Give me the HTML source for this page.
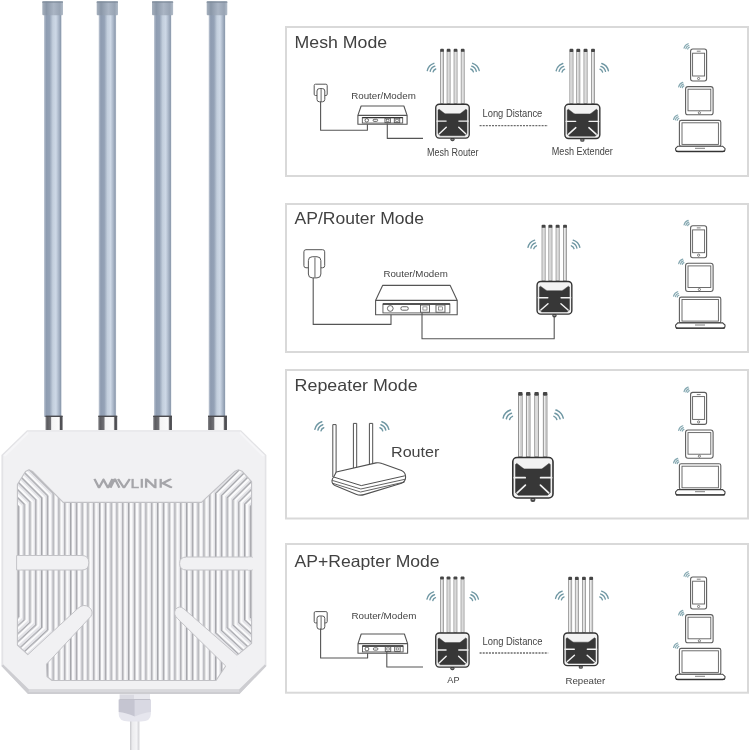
<!DOCTYPE html>
<html><head><meta charset="utf-8"><style>
html,body{margin:0;padding:0;background:#fff;}
svg{display:block;}
text{will-change:transform;}
</style></head><body>
<svg width="750" height="750" viewBox="0 0 750 750">
<defs>
<linearGradient id="shaft" x1="0" x2="1" y1="0" y2="0">
 <stop offset="0" stop-color="#c2cad6"/>
 <stop offset="0.12" stop-color="#8e9cb1"/>
 <stop offset="0.32" stop-color="#94a2b6"/>
 <stop offset="0.5" stop-color="#c3cfdd"/>
 <stop offset="0.68" stop-color="#cdd8e6"/>
 <stop offset="0.86" stop-color="#a4b1c3"/>
 <stop offset="0.95" stop-color="#8d9bae"/>
 <stop offset="1" stop-color="#c8d0da"/>
</linearGradient>
<linearGradient id="cap" x1="0" x2="1" y1="0" y2="0">
 <stop offset="0" stop-color="#a6b0bd"/>
 <stop offset="0.2" stop-color="#8a97a8"/>
 <stop offset="0.55" stop-color="#aab5c4"/>
 <stop offset="0.85" stop-color="#98a4b4"/>
 <stop offset="1" stop-color="#b2bcc8"/>
</linearGradient>
<linearGradient id="conn" x1="0" x2="1" y1="0" y2="0">
 <stop offset="0" stop-color="#8a8a8e"/>
 <stop offset="0.1" stop-color="#5c5c60"/>
 <stop offset="0.3" stop-color="#707074"/>
 <stop offset="0.36" stop-color="#f4f4f4"/>
 <stop offset="0.8" stop-color="#fbfbfb"/>
 <stop offset="0.88" stop-color="#4a4a4e"/>
 <stop offset="1" stop-color="#5a5a5e"/>
</linearGradient>
<linearGradient id="gland" x1="0" x2="1" y1="0" y2="0">
 <stop offset="0" stop-color="#c9c9d4"/>
 <stop offset="0.45" stop-color="#c4c4d0"/>
 <stop offset="0.5" stop-color="#dedee6"/>
 <stop offset="1" stop-color="#d6d6e0"/>
</linearGradient>
<linearGradient id="cable" x1="0" x2="1" y1="0" y2="0">
 <stop offset="0" stop-color="#c8c8cc"/>
 <stop offset="0.25" stop-color="#ececee"/>
 <stop offset="0.7" stop-color="#f4f4f6"/>
 <stop offset="1" stop-color="#cfcfd3"/>
</linearGradient>
<clipPath id="gclip"><polygon points="17.4,484.5 25.5,471.5 29,469.8 32.5,471.5 63.2,502.4 201.4,502.4 235,471.2 238.5,469.8 242,471.2 251.6,481.5 251.6,643.3 237,655.3 229,662 225.7,666 216,680.5 52,680.5 47,676.5 46.5,664 40,660 27.9,654.7 17.4,645"/></clipPath><clipPath id="ucd"><polygon points="17.4,484.5 25.5,471.5 29,469.8 32.5,471.5 63.2,502.4 201.4,502.4 235,471.2 238.5,469.8 242,471.2 251.6,481.5 251.6,643.3 237,655.3 183.7,608.7 181,616 88,616 78,608.3 27.9,654.7 17.4,645"/></clipPath><clipPath id="ep"><polygon points="88,606 181,606 181,618.7 225.7,666 216,680.5 52,680.5 47,676.5 46.5,664 51.3,659 90.8,613.1"/></clipPath><clipPath id="logoclip"><rect x="88" y="478.5" width="90" height="9.7"/></clipPath></defs>
<rect width="750" height="750" fill="#fff"/>
<rect x="44" y="14" width="17.60" height="403" fill="url(#shaft)"/>
<rect x="42.3" y="1.3" width="20.70" height="14" rx="1" fill="url(#cap)"/>
<rect x="42.3" y="1.3" width="20.70" height="1.6" fill="#7e8a9a" opacity="0.7"/>
<rect x="45.5" y="416" width="17.10" height="14" fill="url(#conn)"/>
<rect x="45.5" y="415.6" width="17.10" height="1.4" fill="#4a4a4e"/>
<rect x="98.7" y="14" width="17.40" height="403" fill="url(#shaft)"/>
<rect x="96.7" y="1.3" width="21.30" height="14" rx="1" fill="url(#cap)"/>
<rect x="96.7" y="1.3" width="21.30" height="1.6" fill="#7e8a9a" opacity="0.7"/>
<rect x="98.3" y="416" width="18.90" height="14" fill="url(#conn)"/>
<rect x="98.3" y="415.6" width="18.90" height="1.4" fill="#4a4a4e"/>
<rect x="154" y="14" width="17.30" height="403" fill="url(#shaft)"/>
<rect x="152" y="1.3" width="21.10" height="14" rx="1" fill="url(#cap)"/>
<rect x="152" y="1.3" width="21.10" height="1.6" fill="#7e8a9a" opacity="0.7"/>
<rect x="153.2" y="416" width="18.80" height="14" fill="url(#conn)"/>
<rect x="153.2" y="415.6" width="18.80" height="1.4" fill="#4a4a4e"/>
<rect x="208.7" y="14" width="16.60" height="403" fill="url(#shaft)"/>
<rect x="206.7" y="1.3" width="20.60" height="14" rx="1" fill="url(#cap)"/>
<rect x="206.7" y="1.3" width="20.60" height="1.6" fill="#7e8a9a" opacity="0.7"/>
<rect x="208" y="416" width="19.00" height="14" fill="url(#conn)"/>
<rect x="208" y="415.6" width="19.00" height="1.4" fill="#4a4a4e"/>
<polygon points="27,430.3 241,430.3 266.4,455 266.4,666 239.5,694 28,694 1.4,666 1.4,455" fill="#e3e3e6"/>
<polygon points="27.8,431.6 240.4,431.6 264.8,455.6 264.8,664.5 239,689.6 29,689.6 3.2,664.5 3.2,455.6" fill="#f1f1f3"/>
<path d="M3.2,664.5 L29,689.6 L239,689.6 L264.8,664.5 L266.4,666 L239.5,694 L28,694 L1.4,666 Z" fill="#cdcdd1"/>
<path d="M29,689.6 L239,689.6 L239.3,692 L28.6,692 Z" fill="#d8d8dc"/>
<path d="M240.4,431.6 L264.8,455.6 L262.5,456.5 L239.5,433.5 Z" fill="#f6f6f8"/>
<path d="M27.8,431.6 L3.2,455.6 L5.5,456.5 L28.7,433.5 Z" fill="#f6f6f8"/>
<polygon points="17.4,484.5 25.5,471.5 29,469.8 32.5,471.5 63.2,502.4 201.4,502.4 235,471.2 238.5,469.8 242,471.2 251.6,481.5 251.6,643.3 237,655.3 229,662 225.7,666 216,680.5 52,680.5 47,676.5 46.5,664 40,660 27.9,654.7 17.4,645" fill="#e4e4e8"/>
<g clip-path="url(#ucd)" fill="none" stroke-linejoin="round"><path d="M-21.60,466.40 L18.40,506.40 L18.40,617.22 L-10.96,644.42 M-15.80,464.24 L24.20,504.24 L24.20,619.83 L-5.16,647.03 M-10.00,462.08 L30.00,502.08 L30.00,622.44 L0.64,649.64 M-4.20,459.92 L35.80,499.92 L35.80,625.05 L6.44,652.25 M1.60,457.76 L41.60,497.76 L41.60,627.66 L12.24,654.86 M7.40,455.60 L47.40,495.60 L47.40,630.27 L18.04,657.47 M13.20,453.44 L53.20,493.44 L53.20,632.88 L23.84,660.08 M59.00,440.00 L59.00,635.49 L29.64,662.69 M209.80,440.00 L209.80,635.49 L239.16,662.69 M255.60,453.44 L215.60,493.44 L215.60,632.88 L244.96,660.08 M261.40,455.60 L221.40,495.60 L221.40,630.27 L250.76,657.47 M267.20,457.76 L227.20,497.76 L227.20,627.66 L256.56,654.86 M273.00,459.92 L233.00,499.92 L233.00,625.05 L262.36,652.25 M278.80,462.08 L238.80,502.08 L238.80,622.44 L268.16,649.64 M284.60,464.24 L244.60,504.24 L244.60,619.83 L273.96,647.03 M290.40,466.40 L250.40,506.40 L250.40,617.22 L279.76,644.42" stroke="#fafafb" stroke-width="3.2" transform="translate(2.1,0)"/><path d="M-21.60,466.40 L18.40,506.40 L18.40,617.22 L-10.96,644.42 M-15.80,464.24 L24.20,504.24 L24.20,619.83 L-5.16,647.03 M-10.00,462.08 L30.00,502.08 L30.00,622.44 L0.64,649.64 M-4.20,459.92 L35.80,499.92 L35.80,625.05 L6.44,652.25 M1.60,457.76 L41.60,497.76 L41.60,627.66 L12.24,654.86 M7.40,455.60 L47.40,495.60 L47.40,630.27 L18.04,657.47 M13.20,453.44 L53.20,493.44 L53.20,632.88 L23.84,660.08 M59.00,440.00 L59.00,635.49 L29.64,662.69 M209.80,440.00 L209.80,635.49 L239.16,662.69 M255.60,453.44 L215.60,493.44 L215.60,632.88 L244.96,660.08 M261.40,455.60 L221.40,495.60 L221.40,630.27 L250.76,657.47 M267.20,457.76 L227.20,497.76 L227.20,627.66 L256.56,654.86 M273.00,459.92 L233.00,499.92 L233.00,625.05 L262.36,652.25 M278.80,462.08 L238.80,502.08 L238.80,622.44 L268.16,649.64 M284.60,464.24 L244.60,504.24 L244.60,619.83 L273.96,647.03 M290.40,466.40 L250.40,506.40 L250.40,617.22 L279.76,644.42" stroke="#a5a6ab" stroke-width="1.2"/><path d="M-21.60,466.40 L18.40,506.40 L18.40,617.22 L-10.96,644.42 M-15.80,464.24 L24.20,504.24 L24.20,619.83 L-5.16,647.03 M-10.00,462.08 L30.00,502.08 L30.00,622.44 L0.64,649.64 M-4.20,459.92 L35.80,499.92 L35.80,625.05 L6.44,652.25 M1.60,457.76 L41.60,497.76 L41.60,627.66 L12.24,654.86 M7.40,455.60 L47.40,495.60 L47.40,630.27 L18.04,657.47 M13.20,453.44 L53.20,493.44 L53.20,632.88 L23.84,660.08 M59.00,440.00 L59.00,635.49 L29.64,662.69 M209.80,440.00 L209.80,635.49 L239.16,662.69 M255.60,453.44 L215.60,493.44 L215.60,632.88 L244.96,660.08 M261.40,455.60 L221.40,495.60 L221.40,630.27 L250.76,657.47 M267.20,457.76 L227.20,497.76 L227.20,627.66 L256.56,654.86 M273.00,459.92 L233.00,499.92 L233.00,625.05 L262.36,652.25 M278.80,462.08 L238.80,502.08 L238.80,622.44 L268.16,649.64 M284.60,464.24 L244.60,504.24 L244.60,619.83 L273.96,647.03 M290.40,466.40 L250.40,506.40 L250.40,617.22 L279.76,644.42" stroke="#c9c9cd" stroke-width="1" transform="translate(0.9,0)"/></g>
<g clip-path="url(#ep)" fill="none" stroke-linejoin="round"><path d="M18.40,600 L18.40,700 M24.20,600 L24.20,700 M30.00,600 L30.00,700 M35.80,600 L35.80,700 M41.60,600 L41.60,700 M47.40,600 L47.40,700 M53.20,600 L53.20,700 M59.00,600 L59.00,700 M209.80,600 L209.80,700 M215.60,600 L215.60,700 M221.40,600 L221.40,700 M227.20,600 L227.20,700 M233.00,600 L233.00,700 M238.80,600 L238.80,700 M244.60,600 L244.60,700 M250.40,600 L250.40,700" stroke="#fafafb" stroke-width="3.2" transform="translate(2.1,0)"/><path d="M18.40,600 L18.40,700 M24.20,600 L24.20,700 M30.00,600 L30.00,700 M35.80,600 L35.80,700 M41.60,600 L41.60,700 M47.40,600 L47.40,700 M53.20,600 L53.20,700 M59.00,600 L59.00,700 M209.80,600 L209.80,700 M215.60,600 L215.60,700 M221.40,600 L221.40,700 M227.20,600 L227.20,700 M233.00,600 L233.00,700 M238.80,600 L238.80,700 M244.60,600 L244.60,700 M250.40,600 L250.40,700" stroke="#a5a6ab" stroke-width="1.2"/><path d="M18.40,600 L18.40,700 M24.20,600 L24.20,700 M30.00,600 L30.00,700 M35.80,600 L35.80,700 M41.60,600 L41.60,700 M47.40,600 L47.40,700 M53.20,600 L53.20,700 M59.00,600 L59.00,700 M209.80,600 L209.80,700 M215.60,600 L215.60,700 M221.40,600 L221.40,700 M227.20,600 L227.20,700 M233.00,600 L233.00,700 M238.80,600 L238.80,700 M244.60,600 L244.60,700 M250.40,600 L250.40,700" stroke="#c9c9cd" stroke-width="1" transform="translate(0.9,0)"/></g>
<g clip-path="url(#gclip)" fill="none" stroke-linejoin="round"><path d="M64.80,440 L64.80,700 M70.60,440 L70.60,700 M76.40,440 L76.40,700 M82.20,440 L82.20,700 M88.00,440 L88.00,700 M93.80,440 L93.80,700 M99.60,440 L99.60,700 M105.40,440 L105.40,700 M111.20,440 L111.20,700 M117.00,440 L117.00,700 M122.80,440 L122.80,700 M128.60,440 L128.60,700 M134.40,440 L134.40,700 M140.20,440 L140.20,700 M146.00,440 L146.00,700 M151.80,440 L151.80,700 M157.60,440 L157.60,700 M163.40,440 L163.40,700 M169.20,440 L169.20,700 M175.00,440 L175.00,700 M180.80,440 L180.80,700 M186.60,440 L186.60,700 M192.40,440 L192.40,700 M198.20,440 L198.20,700 M204.00,440 L204.00,700" stroke="#fafafb" stroke-width="3.2" transform="translate(2.1,0)"/><path d="M64.80,440 L64.80,700 M70.60,440 L70.60,700 M76.40,440 L76.40,700 M82.20,440 L82.20,700 M88.00,440 L88.00,700 M93.80,440 L93.80,700 M99.60,440 L99.60,700 M105.40,440 L105.40,700 M111.20,440 L111.20,700 M117.00,440 L117.00,700 M122.80,440 L122.80,700 M128.60,440 L128.60,700 M134.40,440 L134.40,700 M140.20,440 L140.20,700 M146.00,440 L146.00,700 M151.80,440 L151.80,700 M157.60,440 L157.60,700 M163.40,440 L163.40,700 M169.20,440 L169.20,700 M175.00,440 L175.00,700 M180.80,440 L180.80,700 M186.60,440 L186.60,700 M192.40,440 L192.40,700 M198.20,440 L198.20,700 M204.00,440 L204.00,700" stroke="#a5a6ab" stroke-width="1.2"/><path d="M64.80,440 L64.80,700 M70.60,440 L70.60,700 M76.40,440 L76.40,700 M82.20,440 L82.20,700 M88.00,440 L88.00,700 M93.80,440 L93.80,700 M99.60,440 L99.60,700 M105.40,440 L105.40,700 M111.20,440 L111.20,700 M117.00,440 L117.00,700 M122.80,440 L122.80,700 M128.60,440 L128.60,700 M134.40,440 L134.40,700 M140.20,440 L140.20,700 M146.00,440 L146.00,700 M151.80,440 L151.80,700 M157.60,440 L157.60,700 M163.40,440 L163.40,700 M169.20,440 L169.20,700 M175.00,440 L175.00,700 M180.80,440 L180.80,700 M186.60,440 L186.60,700 M192.40,440 L192.40,700 M198.20,440 L198.20,700 M204.00,440 L204.00,700" stroke="#c9c9cd" stroke-width="1" transform="translate(0.9,0)"/></g>
<polygon points="17.4,484.5 25.5,471.5 29,469.8 32.5,471.5 63.2,502.4 201.4,502.4 235,471.2 238.5,469.8 242,471.2 251.6,481.5 251.6,643.3 237,655.3 229,662 225.7,666 216,680.5 52,680.5 47,676.5 46.5,664 40,660 27.9,654.7 17.4,645" fill="none" stroke="#c2c2c6" stroke-width="1.1" stroke-linejoin="round"/>
<path d="M16.6,555.5 L82,555.5 Q88.8,555.5 88.8,562.8 Q88.8,570 82,570 L16.6,570 Z" fill="#f1f1f3" stroke="#c4c4c8" stroke-width="1"/>
<path d="M252.4,557 L186.5,557 Q179.6,557 179.6,563.5 Q179.6,570 186.5,570 L252.4,570 Z" fill="#f1f1f3" stroke="#c4c4c8" stroke-width="1"/>
<rect x="18" y="556.2" width="3" height="13" fill="#f1f1f3"/><rect x="248" y="557.6" width="5" height="12" fill="#f1f1f3"/>
<path d="M22,659.5 L27.9,654.7 L78,608.3 Q84,603 89.5,607.5 Q94,612 90.8,616.5 L51.3,659 L46.5,664 L40,668 Z" fill="#f1f1f3"/>
<path d="M27.9,654.7 L78,608.3 Q84,603 89.5,607.5 Q94,612 90.8,616.5 L51.3,659 L46.5,664" fill="none" stroke="#c4c4c8" stroke-width="1" stroke-linejoin="round"/>
<path d="M246,660 L237,655.3 L183.7,608.7 Q179,605 175.5,609.5 Q173,614.5 177.5,618.5 L225.7,666 L230,671 Z" fill="#f1f1f3"/>
<path d="M237,655.3 L183.7,608.7 Q179,605 175.5,609.5 Q173,614.5 177.5,618.5 L225.7,666" fill="none" stroke="#c4c4c8" stroke-width="1" stroke-linejoin="round"/>
<path d="M94.4,478.8 L99.0,487.8 L103.5,479.6 L108.0,487.8 L112.5,478.8 M110.4,487.8 L114.9,478.8 L119.4,487.8 M118.0,478.8 L123.9,487.8 L129.8,478.8 M132.6,478.8 L132.6,487.8 L138.9,487.8 M141.8,478.8 L141.8,487.8 M146.1,487.8 L146.1,478.8 L155.4,487.8 L155.4,478.8 M160.7,478.8 L160.7,487.8 M171.3,478.8 L162.8,483.3 L172.0,487.8" fill="none" stroke="#a5a5a9" stroke-width="2.3" stroke-linejoin="miter" stroke-miterlimit="10" clip-path="url(#logoclip)"/>
<rect x="130" y="718" width="9.4" height="40" fill="url(#cable)"/>
<path d="M118.7,699.5 L150.9,699.5 L150.9,714 Q150.9,721.5 141,721.5 L128.6,721.5 Q118.7,721.5 118.7,714 Z" fill="#e6e6ee"/>
<path d="M118.7,699.5 L134.8,699.5 L134.8,716.5 Q126,712.5 118.7,712 Z" fill="#c5c5d1"/>
<path d="M134.8,699.5 L150.9,699.5 L150.9,712 Q143.5,712.5 134.8,716.5 Z" fill="#d9d9e3"/>
<rect x="119.6" y="694.3" width="30.4" height="5.4" fill="#dadae2"/>
<rect x="134" y="694.3" width="16" height="5.4" fill="#e8e8ee"/>
<rect x="119.6" y="699" width="30.4" height="1" fill="#c0c0ca"/>
<rect x="286" y="27" width="462" height="149" fill="none" stroke="#d9d9d9" stroke-width="2"/>
<rect x="286" y="204" width="462" height="148" fill="none" stroke="#d9d9d9" stroke-width="2"/>
<rect x="286" y="370" width="462" height="148.5" fill="none" stroke="#d9d9d9" stroke-width="2"/>
<rect x="286" y="544" width="462" height="148.70000000000005" fill="none" stroke="#d9d9d9" stroke-width="2"/>
<text x="294.6" y="47.9" font-size="16.5" font-family="Liberation Sans, sans-serif" fill="#414141" font-weight="normal" textLength="92.5" lengthAdjust="spacingAndGlyphs" >Mesh Mode</text>
<text x="294.6" y="224.4" font-size="16.5" font-family="Liberation Sans, sans-serif" fill="#414141" font-weight="normal" textLength="129.5" lengthAdjust="spacingAndGlyphs" >AP/Router Mode</text>
<text x="294.6" y="390.8" font-size="16.5" font-family="Liberation Sans, sans-serif" fill="#414141" font-weight="normal" textLength="123" lengthAdjust="spacingAndGlyphs" >Repeater Mode</text>
<text x="294.6" y="567.4" font-size="16.5" font-family="Liberation Sans, sans-serif" fill="#414141" font-weight="normal" textLength="145" lengthAdjust="spacingAndGlyphs" >AP+Reapter Mode</text>
<text x="351.2" y="98.9" font-size="9.2" font-family="Liberation Sans, sans-serif" fill="#444444" font-weight="normal" textLength="64.6" lengthAdjust="spacingAndGlyphs" >Router/Modem</text>
<text x="427" y="155.9" font-size="10" font-family="Liberation Sans, sans-serif" fill="#444444" font-weight="normal" textLength="51.5" lengthAdjust="spacingAndGlyphs" >Mesh Router</text>
<text x="482.5" y="117" font-size="10.2" font-family="Liberation Sans, sans-serif" fill="#444444" font-weight="normal" textLength="59.8" lengthAdjust="spacingAndGlyphs" >Long Distance</text>
<text x="551.8" y="155.4" font-size="10" font-family="Liberation Sans, sans-serif" fill="#444444" font-weight="normal" textLength="61" lengthAdjust="spacingAndGlyphs" >Mesh Extender</text>
<text x="383.4" y="277" font-size="9.2" font-family="Liberation Sans, sans-serif" fill="#444444" font-weight="normal" textLength="64.4" lengthAdjust="spacingAndGlyphs" >Router/Modem</text>
<text x="391" y="456.7" font-size="15" font-family="Liberation Sans, sans-serif" fill="#444" font-weight="normal" textLength="48.4" lengthAdjust="spacingAndGlyphs" >Router</text>
<text x="351.4" y="619" font-size="9.2" font-family="Liberation Sans, sans-serif" fill="#444444" font-weight="normal" textLength="65" lengthAdjust="spacingAndGlyphs" >Router/Modem</text>
<text x="482.5" y="645" font-size="10.2" font-family="Liberation Sans, sans-serif" fill="#444444" font-weight="normal" textLength="60" lengthAdjust="spacingAndGlyphs" >Long Distance</text>
<text x="447.3" y="683" font-size="9.6" font-family="Liberation Sans, sans-serif" fill="#444444" font-weight="normal" textLength="12.2" lengthAdjust="spacingAndGlyphs" >AP</text>
<text x="565.4" y="684.2" font-size="9.8" font-family="Liberation Sans, sans-serif" fill="#444444" font-weight="normal" textLength="39.8" lengthAdjust="spacingAndGlyphs" >Repeater</text>
<rect x="314.20" y="84.20" width="13.00" height="11.30" rx="1.30" fill="#fff" stroke="#555555" stroke-width="1"/><rect x="317.00" y="88.60" width="7.80" height="13.20" rx="2.40" fill="#fff" stroke="#555555" stroke-width="1"/><line x1="321.10" y1="89.10" x2="321.10" y2="101.40" stroke="#555555" stroke-width="0.9"/>
<path d="M320.60,101.40 L320.60,130.30 L367.40,130.30 L367.40,122.20" fill="none" stroke="#555555" stroke-width="1.1" stroke-linejoin="round"/>
<path d="M361.10,106.00 L403.90,106.00 L407.10,115.40 L407.10,124.20 L357.90,124.20 L357.90,115.40 Z" fill="#fff" stroke="#555555" stroke-width="1.1" stroke-linejoin="round"/><line x1="357.90" y1="115.40" x2="407.10" y2="115.40" stroke="#555555" stroke-width="1.1"/><rect x="362.33" y="117.60" width="40.34" height="5.46" fill="none" stroke="#555555" stroke-width="0.9"/><line x1="362.33" y1="117.60" x2="402.67" y2="117.60" stroke="#333" stroke-width="1.3"/><circle cx="366.76" cy="120.33" r="1.76" fill="none" stroke="#555555" stroke-width="0.9"/><rect x="373.15" y="119.27" width="4.43" height="2.11" rx="0.88" fill="none" stroke="#555555" stroke-width="0.9"/><rect x="384.96" y="118.22" width="5.41" height="4.40" fill="none" stroke="#555555" stroke-width="0.9"/><rect x="386.44" y="119.36" width="2.46" height="1.94" fill="none" stroke="#555555" stroke-width="0.6"/><rect x="394.31" y="118.22" width="5.41" height="4.40" fill="none" stroke="#555555" stroke-width="0.9"/><rect x="395.78" y="119.36" width="2.46" height="1.94" fill="none" stroke="#555555" stroke-width="0.6"/>
<path d="M387.30,123.40 L387.30,138.40 L423.00,138.40" fill="none" stroke="#555555" stroke-width="1.1" stroke-linejoin="round"/>
<rect x="440.54" y="50.90" width="3.02" height="52.70" fill="#ececec" stroke="#8a8a8a" stroke-width="0.76"/><line x1="442.38" y1="52.16" x2="442.38" y2="102.60" stroke="#b8b8b8" stroke-width="0.50"/><rect x="440.20" y="48.80" width="3.69" height="3.02" rx="0.84" fill="#454545"/><rect x="447.09" y="50.90" width="3.02" height="52.70" fill="#ececec" stroke="#8a8a8a" stroke-width="0.76"/><line x1="448.93" y1="52.16" x2="448.93" y2="102.60" stroke="#b8b8b8" stroke-width="0.50"/><rect x="446.75" y="48.80" width="3.69" height="3.02" rx="0.84" fill="#454545"/><rect x="454.05" y="50.90" width="3.02" height="52.70" fill="#ececec" stroke="#8a8a8a" stroke-width="0.76"/><line x1="455.90" y1="52.16" x2="455.90" y2="102.60" stroke="#b8b8b8" stroke-width="0.50"/><rect x="453.72" y="48.80" width="3.69" height="3.02" rx="0.84" fill="#454545"/><rect x="461.19" y="50.90" width="3.02" height="52.70" fill="#ececec" stroke="#8a8a8a" stroke-width="0.76"/><line x1="463.04" y1="52.16" x2="463.04" y2="102.60" stroke="#b8b8b8" stroke-width="0.50"/><rect x="460.85" y="48.80" width="3.69" height="3.02" rx="0.84" fill="#454545"/><rect x="450.40" y="137.30" width="4.20" height="3.86" rx="1.85" fill="#4a4a4a"/><rect x="451.41" y="138.80" width="2.18" height="1.01" rx="0.50" fill="#9a9a9a"/><rect x="435.75" y="104.27" width="33.50" height="33.78" rx="3.53" fill="#f2f2f2" stroke="#333" stroke-width="1.34"/><polygon points="438.02,110.03 439.11,109.19 444.31,113.25 445.49,113.76 459.59,113.76 460.77,113.25 465.89,109.19 466.98,110.03 466.98,133.65 464.71,135.76 440.29,135.76 438.02,133.65" fill="#373737" stroke="#373737" stroke-width="0.42" stroke-linejoin="round"/><line x1="437.01" y1="121.12" x2="446.08" y2="121.12" stroke="#f2f2f2" stroke-width="1.43" stroke-linecap="round"/><line x1="458.92" y1="121.12" x2="468.07" y2="121.12" stroke="#f2f2f2" stroke-width="1.43" stroke-linecap="round"/><line x1="439.36" y1="133.73" x2="446.25" y2="127.30" stroke="#f2f2f2" stroke-width="1.43" stroke-linecap="round"/><line x1="465.64" y1="133.73" x2="458.75" y2="127.30" stroke="#f2f2f2" stroke-width="1.43" stroke-linecap="round"/>
<path d="M433.10,71.90 A4.00,4.00 0 0 1 435.76,69.00" fill="none" stroke="#6f97a3" stroke-width="1.35" stroke-linecap="round"/><path d="M430.18,71.23 A7.00,7.00 0 0 1 434.84,66.14" fill="none" stroke="#6f97a3" stroke-width="1.35" stroke-linecap="round"/><path d="M427.26,70.55 A10.00,10.00 0 0 1 433.91,63.29" fill="none" stroke="#6f97a3" stroke-width="1.35" stroke-linecap="round"/>
<path d="M473.40,71.90 A4.00,4.00 0 0 0 470.74,69.00" fill="none" stroke="#6f97a3" stroke-width="1.35" stroke-linecap="round"/><path d="M476.32,71.23 A7.00,7.00 0 0 0 471.66,66.14" fill="none" stroke="#6f97a3" stroke-width="1.35" stroke-linecap="round"/><path d="M479.24,70.55 A10.00,10.00 0 0 0 472.59,63.29" fill="none" stroke="#6f97a3" stroke-width="1.35" stroke-linecap="round"/>
<line x1="479.6" y1="125.6" x2="548" y2="125.6" stroke="#6c6c6c" stroke-width="1.3" stroke-dasharray="2 1.1"/>
<rect x="569.86" y="50.99" width="3.16" height="52.61" fill="#ececec" stroke="#8a8a8a" stroke-width="0.79"/><line x1="571.79" y1="52.31" x2="571.79" y2="102.60" stroke="#b8b8b8" stroke-width="0.53"/><rect x="569.51" y="48.80" width="3.86" height="3.16" rx="0.88" fill="#454545"/><rect x="576.70" y="50.99" width="3.16" height="52.61" fill="#ececec" stroke="#8a8a8a" stroke-width="0.79"/><line x1="578.62" y1="52.31" x2="578.62" y2="102.60" stroke="#b8b8b8" stroke-width="0.53"/><rect x="576.35" y="48.80" width="3.86" height="3.16" rx="0.88" fill="#454545"/><rect x="583.97" y="50.99" width="3.16" height="52.61" fill="#ececec" stroke="#8a8a8a" stroke-width="0.79"/><line x1="585.90" y1="52.31" x2="585.90" y2="102.60" stroke="#b8b8b8" stroke-width="0.53"/><rect x="583.62" y="48.80" width="3.86" height="3.16" rx="0.88" fill="#454545"/><rect x="591.42" y="50.99" width="3.16" height="52.61" fill="#ececec" stroke="#8a8a8a" stroke-width="0.79"/><line x1="593.35" y1="52.31" x2="593.35" y2="102.60" stroke="#b8b8b8" stroke-width="0.53"/><rect x="591.07" y="48.80" width="3.86" height="3.16" rx="0.88" fill="#454545"/><rect x="580.16" y="137.80" width="4.38" height="4.03" rx="1.93" fill="#4a4a4a"/><rect x="581.21" y="139.33" width="2.28" height="1.05" rx="0.53" fill="#9a9a9a"/><rect x="564.86" y="104.30" width="34.97" height="34.24" rx="3.68" fill="#f2f2f2" stroke="#333" stroke-width="1.40"/><polygon points="567.23,110.12 568.37,109.27 573.80,113.39 575.03,113.90 589.76,113.90 590.98,113.39 596.33,109.27 597.47,110.12 597.47,134.08 595.10,136.22 569.60,136.22 567.23,134.08" fill="#373737" stroke="#373737" stroke-width="0.44" stroke-linejoin="round"/><line x1="566.18" y1="121.37" x2="575.64" y2="121.37" stroke="#f2f2f2" stroke-width="1.49" stroke-linecap="round"/><line x1="589.06" y1="121.37" x2="598.61" y2="121.37" stroke="#f2f2f2" stroke-width="1.49" stroke-linecap="round"/><line x1="568.63" y1="134.16" x2="575.82" y2="127.64" stroke="#f2f2f2" stroke-width="1.49" stroke-linecap="round"/><line x1="596.07" y1="134.16" x2="588.88" y2="127.64" stroke="#f2f2f2" stroke-width="1.49" stroke-linecap="round"/>
<path d="M562.00,72.10 A4.00,4.00 0 0 1 564.66,69.20" fill="none" stroke="#6f97a3" stroke-width="1.35" stroke-linecap="round"/><path d="M559.08,71.43 A7.00,7.00 0 0 1 563.74,66.34" fill="none" stroke="#6f97a3" stroke-width="1.35" stroke-linecap="round"/><path d="M556.16,70.75 A10.00,10.00 0 0 1 562.81,63.49" fill="none" stroke="#6f97a3" stroke-width="1.35" stroke-linecap="round"/>
<path d="M602.60,72.10 A4.00,4.00 0 0 0 599.94,69.20" fill="none" stroke="#6f97a3" stroke-width="1.35" stroke-linecap="round"/><path d="M605.52,71.43 A7.00,7.00 0 0 0 600.86,66.34" fill="none" stroke="#6f97a3" stroke-width="1.35" stroke-linecap="round"/><path d="M608.44,70.75 A10.00,10.00 0 0 0 601.79,63.49" fill="none" stroke="#6f97a3" stroke-width="1.35" stroke-linecap="round"/>
<rect x="690.6" y="49.00" width="16" height="32" rx="2.2" fill="#fff" stroke="#5e5e5e" stroke-width="1.1"/><rect x="692.6" y="53.20" width="12" height="22.8" fill="none" stroke="#5e5e5e" stroke-width="0.9"/><line x1="696.8" y1="51.20" x2="700.6" y2="51.20" stroke="#5e5e5e" stroke-width="0.8"/><circle cx="698.6" cy="78.50" r="1.1" fill="none" stroke="#5e5e5e" stroke-width="0.8"/><rect x="685.6" y="86.60" width="27.5" height="28.2" rx="2.4" fill="#fff" stroke="#5e5e5e" stroke-width="1.1"/><rect x="688" y="89.20" width="22.8" height="21.6" fill="none" stroke="#5e5e5e" stroke-width="0.9"/><circle cx="699.4" cy="112.80" r="1.1" fill="none" stroke="#5e5e5e" stroke-width="0.8"/><rect x="679.4" y="120.40" width="41.4" height="25.8" rx="1.8" fill="#fff" stroke="#5e5e5e" stroke-width="1.1"/><rect x="682" y="122.80" width="36.4" height="21.6" fill="none" stroke="#5e5e5e" stroke-width="0.9"/><path d="M675.6,148.40 L677.8,146.20 L722.6,146.20 L725,148.40 L725,149.60 Q725,151.60 722.6,151.60 L678,151.60 Q675.6,151.60 675.6,149.60 Z" fill="#fff" stroke="#444" stroke-width="1.1"/><line x1="676" y1="151.40" x2="724.6" y2="151.40" stroke="#333" stroke-width="1.3"/><line x1="695" y1="148.30" x2="705" y2="148.30" stroke="#5e5e5e" stroke-width="0.8"/>
<path d="M687.68,49.04 A2.48,2.48 0 0 1 689.33,47.24" fill="none" stroke="#86a9b2" stroke-width="1.20" stroke-linecap="round"/><path d="M685.87,48.62 A4.34,4.34 0 0 1 688.76,45.47" fill="none" stroke="#86a9b2" stroke-width="1.20" stroke-linecap="round"/><path d="M684.06,48.21 A6.20,6.20 0 0 1 688.18,43.70" fill="none" stroke="#86a9b2" stroke-width="1.20" stroke-linecap="round"/>
<path d="M682.28,87.74 A2.48,2.48 0 0 1 683.93,85.94" fill="none" stroke="#86a9b2" stroke-width="1.20" stroke-linecap="round"/><path d="M680.47,87.32 A4.34,4.34 0 0 1 683.36,84.17" fill="none" stroke="#86a9b2" stroke-width="1.20" stroke-linecap="round"/><path d="M678.66,86.91 A6.20,6.20 0 0 1 682.78,82.40" fill="none" stroke="#86a9b2" stroke-width="1.20" stroke-linecap="round"/>
<path d="M677.18,120.34 A2.48,2.48 0 0 1 678.83,118.54" fill="none" stroke="#86a9b2" stroke-width="1.20" stroke-linecap="round"/><path d="M675.37,119.92 A4.34,4.34 0 0 1 678.26,116.77" fill="none" stroke="#86a9b2" stroke-width="1.20" stroke-linecap="round"/><path d="M673.56,119.51 A6.20,6.20 0 0 1 677.68,115.00" fill="none" stroke="#86a9b2" stroke-width="1.20" stroke-linecap="round"/>
<rect x="303.90" y="249.70" width="20.80" height="18.08" rx="2.08" fill="#fff" stroke="#555555" stroke-width="1"/><rect x="308.38" y="256.74" width="12.48" height="21.12" rx="3.84" fill="#fff" stroke="#555555" stroke-width="1"/><line x1="314.94" y1="257.54" x2="314.94" y2="277.22" stroke="#555555" stroke-width="0.9"/>
<path d="M313.20,278.00 L313.20,324.40 L391.00,324.40 L391.00,312.00" fill="none" stroke="#555555" stroke-width="1.1" stroke-linejoin="round"/>
<path d="M382.60,285.40 L450.20,285.40 L457.20,300.40 L457.20,314.80 L375.60,314.80 L375.60,300.40 Z" fill="#fff" stroke="#555555" stroke-width="1.1" stroke-linejoin="round"/><line x1="375.60" y1="300.40" x2="457.20" y2="300.40" stroke="#555555" stroke-width="1.1"/><rect x="382.94" y="304.00" width="66.91" height="8.93" fill="none" stroke="#555555" stroke-width="0.9"/><line x1="382.94" y1="304.00" x2="449.86" y2="304.00" stroke="#333" stroke-width="1.3"/><circle cx="390.29" cy="308.46" r="2.88" fill="none" stroke="#555555" stroke-width="0.9"/><rect x="400.90" y="306.74" width="7.34" height="3.46" rx="1.44" fill="none" stroke="#555555" stroke-width="0.9"/><rect x="420.48" y="305.01" width="8.98" height="7.20" fill="none" stroke="#555555" stroke-width="0.9"/><rect x="422.93" y="306.88" width="4.08" height="3.17" fill="none" stroke="#555555" stroke-width="0.6"/><rect x="435.98" y="305.01" width="8.98" height="7.20" fill="none" stroke="#555555" stroke-width="0.9"/><rect x="438.43" y="306.88" width="4.08" height="3.17" fill="none" stroke="#555555" stroke-width="0.6"/>
<path d="M422.00,313.00 L422.00,338.80 L554.20,338.80 L554.20,316.00" fill="none" stroke="#555555" stroke-width="1.1" stroke-linejoin="round"/>
<rect x="542.03" y="226.88" width="3.14" height="53.92" fill="#ececec" stroke="#8a8a8a" stroke-width="0.78"/><line x1="543.95" y1="228.19" x2="543.95" y2="279.80" stroke="#b8b8b8" stroke-width="0.52"/><rect x="541.68" y="224.70" width="3.84" height="3.14" rx="0.87" fill="#454545"/><rect x="548.83" y="226.88" width="3.14" height="53.92" fill="#ececec" stroke="#8a8a8a" stroke-width="0.78"/><line x1="550.75" y1="228.19" x2="550.75" y2="279.80" stroke="#b8b8b8" stroke-width="0.52"/><rect x="548.48" y="224.70" width="3.84" height="3.14" rx="0.87" fill="#454545"/><rect x="556.06" y="226.88" width="3.14" height="53.92" fill="#ececec" stroke="#8a8a8a" stroke-width="0.78"/><line x1="557.98" y1="228.19" x2="557.98" y2="279.80" stroke="#b8b8b8" stroke-width="0.52"/><rect x="555.71" y="224.70" width="3.84" height="3.14" rx="0.87" fill="#454545"/><rect x="563.47" y="226.88" width="3.14" height="53.92" fill="#ececec" stroke="#8a8a8a" stroke-width="0.78"/><line x1="565.39" y1="228.19" x2="565.39" y2="279.80" stroke="#b8b8b8" stroke-width="0.52"/><rect x="563.12" y="224.70" width="3.84" height="3.14" rx="0.87" fill="#454545"/><rect x="552.27" y="313.40" width="4.36" height="4.01" rx="1.92" fill="#4a4a4a"/><rect x="553.32" y="314.92" width="2.27" height="1.05" rx="0.52" fill="#9a9a9a"/><rect x="537.06" y="281.50" width="34.78" height="32.64" rx="3.66" fill="#f2f2f2" stroke="#333" stroke-width="1.39"/><polygon points="539.41,287.03 540.55,286.21 545.95,290.14 547.17,290.63 561.82,290.63 563.04,290.14 568.35,286.21 569.49,287.03 569.49,309.89 567.13,311.94 541.77,311.94 539.41,309.89" fill="#373737" stroke="#373737" stroke-width="0.44" stroke-linejoin="round"/><line x1="538.37" y1="297.76" x2="547.78" y2="297.76" stroke="#f2f2f2" stroke-width="1.48" stroke-linecap="round"/><line x1="561.12" y1="297.76" x2="570.62" y2="297.76" stroke="#f2f2f2" stroke-width="1.48" stroke-linecap="round"/><line x1="540.81" y1="309.97" x2="547.96" y2="303.75" stroke="#f2f2f2" stroke-width="1.48" stroke-linecap="round"/><line x1="568.09" y1="309.97" x2="560.94" y2="303.75" stroke="#f2f2f2" stroke-width="1.48" stroke-linecap="round"/>
<path d="M533.80,248.70 A4.00,4.00 0 0 1 536.46,245.80" fill="none" stroke="#6f97a3" stroke-width="1.35" stroke-linecap="round"/><path d="M530.88,248.03 A7.00,7.00 0 0 1 535.54,242.94" fill="none" stroke="#6f97a3" stroke-width="1.35" stroke-linecap="round"/><path d="M527.96,247.35 A10.00,10.00 0 0 1 534.61,240.09" fill="none" stroke="#6f97a3" stroke-width="1.35" stroke-linecap="round"/>
<path d="M574.00,248.70 A4.00,4.00 0 0 0 571.34,245.80" fill="none" stroke="#6f97a3" stroke-width="1.35" stroke-linecap="round"/><path d="M576.92,248.03 A7.00,7.00 0 0 0 572.26,242.94" fill="none" stroke="#6f97a3" stroke-width="1.35" stroke-linecap="round"/><path d="M579.84,247.35 A10.00,10.00 0 0 0 573.19,240.09" fill="none" stroke="#6f97a3" stroke-width="1.35" stroke-linecap="round"/>
<rect x="690.6" y="225.70" width="16" height="32" rx="2.2" fill="#fff" stroke="#5e5e5e" stroke-width="1.1"/><rect x="692.6" y="229.90" width="12" height="22.8" fill="none" stroke="#5e5e5e" stroke-width="0.9"/><line x1="696.8" y1="227.90" x2="700.6" y2="227.90" stroke="#5e5e5e" stroke-width="0.8"/><circle cx="698.6" cy="255.20" r="1.1" fill="none" stroke="#5e5e5e" stroke-width="0.8"/><rect x="685.6" y="263.30" width="27.5" height="28.2" rx="2.4" fill="#fff" stroke="#5e5e5e" stroke-width="1.1"/><rect x="688" y="265.90" width="22.8" height="21.6" fill="none" stroke="#5e5e5e" stroke-width="0.9"/><circle cx="699.4" cy="289.50" r="1.1" fill="none" stroke="#5e5e5e" stroke-width="0.8"/><rect x="679.4" y="297.10" width="41.4" height="25.8" rx="1.8" fill="#fff" stroke="#5e5e5e" stroke-width="1.1"/><rect x="682" y="299.50" width="36.4" height="21.6" fill="none" stroke="#5e5e5e" stroke-width="0.9"/><path d="M675.6,325.10 L677.8,322.90 L722.6,322.90 L725,325.10 L725,326.30 Q725,328.30 722.6,328.30 L678,328.30 Q675.6,328.30 675.6,326.30 Z" fill="#fff" stroke="#444" stroke-width="1.1"/><line x1="676" y1="328.10" x2="724.6" y2="328.10" stroke="#333" stroke-width="1.3"/><line x1="695" y1="325.00" x2="705" y2="325.00" stroke="#5e5e5e" stroke-width="0.8"/>
<path d="M687.68,225.74 A2.48,2.48 0 0 1 689.33,223.94" fill="none" stroke="#86a9b2" stroke-width="1.20" stroke-linecap="round"/><path d="M685.87,225.32 A4.34,4.34 0 0 1 688.76,222.17" fill="none" stroke="#86a9b2" stroke-width="1.20" stroke-linecap="round"/><path d="M684.06,224.91 A6.20,6.20 0 0 1 688.18,220.40" fill="none" stroke="#86a9b2" stroke-width="1.20" stroke-linecap="round"/>
<path d="M682.28,264.44 A2.48,2.48 0 0 1 683.93,262.64" fill="none" stroke="#86a9b2" stroke-width="1.20" stroke-linecap="round"/><path d="M680.47,264.02 A4.34,4.34 0 0 1 683.36,260.87" fill="none" stroke="#86a9b2" stroke-width="1.20" stroke-linecap="round"/><path d="M678.66,263.61 A6.20,6.20 0 0 1 682.78,259.10" fill="none" stroke="#86a9b2" stroke-width="1.20" stroke-linecap="round"/>
<path d="M677.18,297.04 A2.48,2.48 0 0 1 678.83,295.24" fill="none" stroke="#86a9b2" stroke-width="1.20" stroke-linecap="round"/><path d="M675.37,296.62 A4.34,4.34 0 0 1 678.26,293.47" fill="none" stroke="#86a9b2" stroke-width="1.20" stroke-linecap="round"/><path d="M673.56,296.21 A6.20,6.20 0 0 1 677.68,291.70" fill="none" stroke="#86a9b2" stroke-width="1.20" stroke-linecap="round"/>
<path d="M332.80,477.00 L332.80,424.60 L336.10,424.60 L336.10,477.00" fill="#fff" stroke="#505050" stroke-width="1"/><path d="M353.40,468.00 L353.40,423.40 L356.70,423.40 L356.70,468.00" fill="#fff" stroke="#505050" stroke-width="1"/><path d="M369.40,465.00 L369.40,423.40 L372.70,423.40 L372.70,465.00" fill="#fff" stroke="#505050" stroke-width="1"/><path d="M336.3,472 L376,462.9 Q379,462.3 382,463.5 L401.5,470.6 Q405.6,472.5 405.6,477 Q405.6,481.8 401.5,483.2 L364,494.6 Q360,495.8 356,494.2 L335,485.5 Q331.8,484 332,480.6 Q332.3,478.4 333.6,477 Z" fill="#fff" stroke="#505050" stroke-width="1.1" stroke-linejoin="round"/><path d="M333.6,477 L361.3,485.6 L404.9,475.8" fill="none" stroke="#505050" stroke-width="1"/><path d="M332.3,480.4 L360.8,489 L405.4,479.2" fill="none" stroke="#505050" stroke-width="0.9"/><path d="M333,483.4 L360.6,492 L404.6,482" fill="none" stroke="#505050" stroke-width="0.9"/>
<path d="M320.98,430.82 A4.20,4.20 0 0 1 323.78,427.77" fill="none" stroke="#6f97a3" stroke-width="1.42" stroke-linecap="round"/><path d="M317.91,430.11 A7.35,7.35 0 0 1 322.80,424.77" fill="none" stroke="#6f97a3" stroke-width="1.42" stroke-linecap="round"/><path d="M314.84,429.40 A10.50,10.50 0 0 1 321.83,421.77" fill="none" stroke="#6f97a3" stroke-width="1.42" stroke-linecap="round"/>
<path d="M382.72,430.82 A4.20,4.20 0 0 0 379.92,427.77" fill="none" stroke="#6f97a3" stroke-width="1.42" stroke-linecap="round"/><path d="M385.79,430.11 A7.35,7.35 0 0 0 380.90,424.77" fill="none" stroke="#6f97a3" stroke-width="1.42" stroke-linecap="round"/><path d="M388.86,429.40 A10.50,10.50 0 0 0 381.87,421.77" fill="none" stroke="#6f97a3" stroke-width="1.42" stroke-linecap="round"/>
<rect x="518.54" y="394.52" width="3.63" height="62.18" fill="#ececec" stroke="#8a8a8a" stroke-width="0.91"/><line x1="520.76" y1="396.03" x2="520.76" y2="455.70" stroke="#b8b8b8" stroke-width="0.60"/><rect x="518.14" y="392.00" width="4.43" height="3.63" rx="1.01" fill="#454545"/><rect x="526.40" y="394.52" width="3.63" height="62.18" fill="#ececec" stroke="#8a8a8a" stroke-width="0.91"/><line x1="528.62" y1="396.03" x2="528.62" y2="455.70" stroke="#b8b8b8" stroke-width="0.60"/><rect x="526.00" y="392.00" width="4.43" height="3.63" rx="1.01" fill="#454545"/><rect x="534.76" y="394.52" width="3.63" height="62.18" fill="#ececec" stroke="#8a8a8a" stroke-width="0.91"/><line x1="536.98" y1="396.03" x2="536.98" y2="455.70" stroke="#b8b8b8" stroke-width="0.60"/><rect x="534.36" y="392.00" width="4.43" height="3.63" rx="1.01" fill="#454545"/><rect x="543.33" y="394.52" width="3.63" height="62.18" fill="#ececec" stroke="#8a8a8a" stroke-width="0.91"/><line x1="545.54" y1="396.03" x2="545.54" y2="455.70" stroke="#b8b8b8" stroke-width="0.60"/><rect x="542.92" y="392.00" width="4.43" height="3.63" rx="1.01" fill="#454545"/><rect x="530.38" y="497.30" width="5.04" height="4.63" rx="2.22" fill="#4a4a4a"/><rect x="531.59" y="498.90" width="2.62" height="1.21" rx="0.60" fill="#9a9a9a"/><rect x="512.80" y="457.51" width="40.20" height="40.49" rx="4.23" fill="#f2f2f2" stroke="#333" stroke-width="1.61"/><polygon points="515.52,464.41 516.83,463.40 523.08,468.27 524.49,468.88 541.41,468.88 542.82,468.27 548.97,463.40 550.28,464.41 550.28,492.72 547.56,495.26 518.24,495.26 515.52,492.72" fill="#373737" stroke="#373737" stroke-width="0.50" stroke-linejoin="round"/><line x1="514.31" y1="477.70" x2="525.19" y2="477.70" stroke="#f2f2f2" stroke-width="1.71" stroke-linecap="round"/><line x1="540.61" y1="477.70" x2="551.59" y2="477.70" stroke="#f2f2f2" stroke-width="1.71" stroke-linecap="round"/><line x1="517.13" y1="492.82" x2="525.39" y2="485.11" stroke="#f2f2f2" stroke-width="1.71" stroke-linecap="round"/><line x1="548.67" y1="492.82" x2="540.41" y2="485.11" stroke="#f2f2f2" stroke-width="1.71" stroke-linecap="round"/>
<path d="M509.56,419.53 A4.40,4.40 0 0 1 512.49,416.34" fill="none" stroke="#6f97a3" stroke-width="1.49" stroke-linecap="round"/><path d="M506.35,418.79 A7.70,7.70 0 0 1 511.47,413.20" fill="none" stroke="#6f97a3" stroke-width="1.49" stroke-linecap="round"/><path d="M503.13,418.05 A11.00,11.00 0 0 1 510.45,410.06" fill="none" stroke="#6f97a3" stroke-width="1.49" stroke-linecap="round"/>
<path d="M556.84,419.53 A4.40,4.40 0 0 0 553.91,416.34" fill="none" stroke="#6f97a3" stroke-width="1.49" stroke-linecap="round"/><path d="M560.05,418.79 A7.70,7.70 0 0 0 554.93,413.20" fill="none" stroke="#6f97a3" stroke-width="1.49" stroke-linecap="round"/><path d="M563.27,418.05 A11.00,11.00 0 0 0 555.95,410.06" fill="none" stroke="#6f97a3" stroke-width="1.49" stroke-linecap="round"/>
<rect x="690.6" y="392.40" width="16" height="32" rx="2.2" fill="#fff" stroke="#5e5e5e" stroke-width="1.1"/><rect x="692.6" y="396.60" width="12" height="22.8" fill="none" stroke="#5e5e5e" stroke-width="0.9"/><line x1="696.8" y1="394.60" x2="700.6" y2="394.60" stroke="#5e5e5e" stroke-width="0.8"/><circle cx="698.6" cy="421.90" r="1.1" fill="none" stroke="#5e5e5e" stroke-width="0.8"/><rect x="685.6" y="430.00" width="27.5" height="28.2" rx="2.4" fill="#fff" stroke="#5e5e5e" stroke-width="1.1"/><rect x="688" y="432.60" width="22.8" height="21.6" fill="none" stroke="#5e5e5e" stroke-width="0.9"/><circle cx="699.4" cy="456.20" r="1.1" fill="none" stroke="#5e5e5e" stroke-width="0.8"/><rect x="679.4" y="463.80" width="41.4" height="25.8" rx="1.8" fill="#fff" stroke="#5e5e5e" stroke-width="1.1"/><rect x="682" y="466.20" width="36.4" height="21.6" fill="none" stroke="#5e5e5e" stroke-width="0.9"/><path d="M675.6,491.80 L677.8,489.60 L722.6,489.60 L725,491.80 L725,493.00 Q725,495.00 722.6,495.00 L678,495.00 Q675.6,495.00 675.6,493.00 Z" fill="#fff" stroke="#444" stroke-width="1.1"/><line x1="676" y1="494.80" x2="724.6" y2="494.80" stroke="#333" stroke-width="1.3"/><line x1="695" y1="491.70" x2="705" y2="491.70" stroke="#5e5e5e" stroke-width="0.8"/>
<path d="M687.68,392.44 A2.48,2.48 0 0 1 689.33,390.64" fill="none" stroke="#86a9b2" stroke-width="1.20" stroke-linecap="round"/><path d="M685.87,392.02 A4.34,4.34 0 0 1 688.76,388.87" fill="none" stroke="#86a9b2" stroke-width="1.20" stroke-linecap="round"/><path d="M684.06,391.61 A6.20,6.20 0 0 1 688.18,387.10" fill="none" stroke="#86a9b2" stroke-width="1.20" stroke-linecap="round"/>
<path d="M682.28,431.14 A2.48,2.48 0 0 1 683.93,429.34" fill="none" stroke="#86a9b2" stroke-width="1.20" stroke-linecap="round"/><path d="M680.47,430.72 A4.34,4.34 0 0 1 683.36,427.57" fill="none" stroke="#86a9b2" stroke-width="1.20" stroke-linecap="round"/><path d="M678.66,430.31 A6.20,6.20 0 0 1 682.78,425.80" fill="none" stroke="#86a9b2" stroke-width="1.20" stroke-linecap="round"/>
<path d="M677.18,463.74 A2.48,2.48 0 0 1 678.83,461.94" fill="none" stroke="#86a9b2" stroke-width="1.20" stroke-linecap="round"/><path d="M675.37,463.32 A4.34,4.34 0 0 1 678.26,460.17" fill="none" stroke="#86a9b2" stroke-width="1.20" stroke-linecap="round"/><path d="M673.56,462.91 A6.20,6.20 0 0 1 677.68,458.40" fill="none" stroke="#86a9b2" stroke-width="1.20" stroke-linecap="round"/>
<rect x="314.20" y="611.60" width="13.00" height="11.30" rx="1.30" fill="#fff" stroke="#555555" stroke-width="1"/><rect x="317.00" y="616.00" width="7.80" height="13.20" rx="2.40" fill="#fff" stroke="#555555" stroke-width="1"/><line x1="321.10" y1="616.50" x2="321.10" y2="628.80" stroke="#555555" stroke-width="0.9"/>
<path d="M320.60,628.60 L320.60,658.00 L367.60,658.00 L367.60,650.00" fill="none" stroke="#555555" stroke-width="1.1" stroke-linejoin="round"/>
<path d="M361.20,634.00 L404.40,634.00 L407.60,643.60 L407.60,653.20 L358.00,653.20 L358.00,643.60 Z" fill="#fff" stroke="#555555" stroke-width="1.1" stroke-linejoin="round"/><line x1="358.00" y1="643.60" x2="407.60" y2="643.60" stroke="#555555" stroke-width="1.1"/><rect x="362.46" y="646.00" width="40.67" height="5.95" fill="none" stroke="#555555" stroke-width="0.9"/><line x1="362.46" y1="646.00" x2="403.14" y2="646.00" stroke="#333" stroke-width="1.3"/><circle cx="366.93" cy="648.98" r="1.92" fill="none" stroke="#555555" stroke-width="0.9"/><rect x="373.38" y="647.82" width="4.46" height="2.30" rx="0.96" fill="none" stroke="#555555" stroke-width="0.9"/><rect x="385.28" y="646.67" width="5.46" height="4.80" fill="none" stroke="#555555" stroke-width="0.9"/><rect x="386.77" y="647.92" width="2.48" height="2.11" fill="none" stroke="#555555" stroke-width="0.6"/><rect x="394.70" y="646.67" width="5.46" height="4.80" fill="none" stroke="#555555" stroke-width="0.9"/><rect x="396.19" y="647.92" width="2.48" height="2.11" fill="none" stroke="#555555" stroke-width="0.6"/>
<path d="M386.80,651.40 L386.80,667.00 L423.00,667.00" fill="none" stroke="#555555" stroke-width="1.1" stroke-linejoin="round"/>
<rect x="440.51" y="578.49" width="3.00" height="53.81" fill="#ececec" stroke="#8a8a8a" stroke-width="0.75"/><line x1="442.34" y1="579.74" x2="442.34" y2="631.30" stroke="#b8b8b8" stroke-width="0.50"/><rect x="440.17" y="576.40" width="3.67" height="3.00" rx="0.83" fill="#454545"/><rect x="447.02" y="578.49" width="3.00" height="53.81" fill="#ececec" stroke="#8a8a8a" stroke-width="0.75"/><line x1="448.85" y1="579.74" x2="448.85" y2="631.30" stroke="#b8b8b8" stroke-width="0.50"/><rect x="446.68" y="576.40" width="3.67" height="3.00" rx="0.83" fill="#454545"/><rect x="453.94" y="578.49" width="3.00" height="53.81" fill="#ececec" stroke="#8a8a8a" stroke-width="0.75"/><line x1="455.78" y1="579.74" x2="455.78" y2="631.30" stroke="#b8b8b8" stroke-width="0.50"/><rect x="453.61" y="576.40" width="3.67" height="3.00" rx="0.83" fill="#454545"/><rect x="461.04" y="578.49" width="3.00" height="53.81" fill="#ececec" stroke="#8a8a8a" stroke-width="0.75"/><line x1="462.87" y1="579.74" x2="462.87" y2="631.30" stroke="#b8b8b8" stroke-width="0.50"/><rect x="460.70" y="576.40" width="3.67" height="3.00" rx="0.83" fill="#454545"/><rect x="450.31" y="666.30" width="4.17" height="3.84" rx="1.84" fill="#4a4a4a"/><rect x="451.32" y="667.80" width="2.17" height="1.00" rx="0.50" fill="#9a9a9a"/><rect x="435.75" y="632.97" width="33.30" height="34.08" rx="3.51" fill="#f2f2f2" stroke="#333" stroke-width="1.34"/><polygon points="438.00,638.79 439.09,637.93 444.26,642.03 445.43,642.54 459.45,642.54 460.62,642.03 465.71,637.93 466.80,638.79 466.80,662.60 464.54,664.74 440.26,664.74 438.00,662.60" fill="#373737" stroke="#373737" stroke-width="0.42" stroke-linejoin="round"/><line x1="437.00" y1="649.97" x2="446.02" y2="649.97" stroke="#f2f2f2" stroke-width="1.42" stroke-linecap="round"/><line x1="458.78" y1="649.97" x2="467.88" y2="649.97" stroke="#f2f2f2" stroke-width="1.42" stroke-linecap="round"/><line x1="439.34" y1="662.69" x2="446.18" y2="656.20" stroke="#f2f2f2" stroke-width="1.42" stroke-linecap="round"/><line x1="465.46" y1="662.69" x2="458.62" y2="656.20" stroke="#f2f2f2" stroke-width="1.42" stroke-linecap="round"/>
<path d="M432.80,600.50 A4.00,4.00 0 0 1 435.46,597.60" fill="none" stroke="#6f97a3" stroke-width="1.35" stroke-linecap="round"/><path d="M429.88,599.83 A7.00,7.00 0 0 1 434.54,594.74" fill="none" stroke="#6f97a3" stroke-width="1.35" stroke-linecap="round"/><path d="M426.96,599.15 A10.00,10.00 0 0 1 433.61,591.89" fill="none" stroke="#6f97a3" stroke-width="1.35" stroke-linecap="round"/>
<path d="M472.60,600.50 A4.00,4.00 0 0 0 469.94,597.60" fill="none" stroke="#6f97a3" stroke-width="1.35" stroke-linecap="round"/><path d="M475.52,599.83 A7.00,7.00 0 0 0 470.86,594.74" fill="none" stroke="#6f97a3" stroke-width="1.35" stroke-linecap="round"/><path d="M478.44,599.15 A10.00,10.00 0 0 0 471.79,591.89" fill="none" stroke="#6f97a3" stroke-width="1.35" stroke-linecap="round"/>
<line x1="479.6" y1="653" x2="548.2" y2="653" stroke="#6c6c6c" stroke-width="1.3" stroke-dasharray="2 1.1"/>
<rect x="568.63" y="578.94" width="3.08" height="53.36" fill="#ececec" stroke="#8a8a8a" stroke-width="0.77"/><line x1="570.51" y1="580.22" x2="570.51" y2="631.30" stroke="#b8b8b8" stroke-width="0.51"/><rect x="568.28" y="576.80" width="3.76" height="3.08" rx="0.85" fill="#454545"/><rect x="575.29" y="578.94" width="3.08" height="53.36" fill="#ececec" stroke="#8a8a8a" stroke-width="0.77"/><line x1="577.17" y1="580.22" x2="577.17" y2="631.30" stroke="#b8b8b8" stroke-width="0.51"/><rect x="574.95" y="576.80" width="3.76" height="3.08" rx="0.85" fill="#454545"/><rect x="582.38" y="578.94" width="3.08" height="53.36" fill="#ececec" stroke="#8a8a8a" stroke-width="0.77"/><line x1="584.26" y1="580.22" x2="584.26" y2="631.30" stroke="#b8b8b8" stroke-width="0.51"/><rect x="582.04" y="576.80" width="3.76" height="3.08" rx="0.85" fill="#454545"/><rect x="589.64" y="578.94" width="3.08" height="53.36" fill="#ececec" stroke="#8a8a8a" stroke-width="0.77"/><line x1="591.52" y1="580.22" x2="591.52" y2="631.30" stroke="#b8b8b8" stroke-width="0.51"/><rect x="589.30" y="576.80" width="3.76" height="3.08" rx="0.85" fill="#454545"/><rect x="578.66" y="664.90" width="4.27" height="3.93" rx="1.88" fill="#4a4a4a"/><rect x="579.69" y="666.41" width="2.22" height="1.03" rx="0.51" fill="#9a9a9a"/><rect x="563.76" y="632.98" width="34.09" height="32.66" rx="3.59" fill="#f2f2f2" stroke="#333" stroke-width="1.37"/><polygon points="566.06,638.53 567.17,637.71 572.47,641.64 573.67,642.13 588.02,642.13 589.22,641.64 594.43,637.71 595.54,638.53 595.54,661.39 593.23,663.44 568.37,663.44 566.06,661.39" fill="#373737" stroke="#373737" stroke-width="0.43" stroke-linejoin="round"/><line x1="565.04" y1="649.26" x2="574.26" y2="649.26" stroke="#f2f2f2" stroke-width="1.45" stroke-linecap="round"/><line x1="587.34" y1="649.26" x2="596.65" y2="649.26" stroke="#f2f2f2" stroke-width="1.45" stroke-linecap="round"/><line x1="567.43" y1="661.47" x2="574.44" y2="655.25" stroke="#f2f2f2" stroke-width="1.45" stroke-linecap="round"/><line x1="594.17" y1="661.47" x2="587.16" y2="655.25" stroke="#f2f2f2" stroke-width="1.45" stroke-linecap="round"/>
<path d="M561.40,599.80 A4.00,4.00 0 0 1 564.06,596.90" fill="none" stroke="#6f97a3" stroke-width="1.35" stroke-linecap="round"/><path d="M558.48,599.13 A7.00,7.00 0 0 1 563.14,594.04" fill="none" stroke="#6f97a3" stroke-width="1.35" stroke-linecap="round"/><path d="M555.56,598.45 A10.00,10.00 0 0 1 562.21,591.19" fill="none" stroke="#6f97a3" stroke-width="1.35" stroke-linecap="round"/>
<path d="M602.40,599.80 A4.00,4.00 0 0 0 599.74,596.90" fill="none" stroke="#6f97a3" stroke-width="1.35" stroke-linecap="round"/><path d="M605.32,599.13 A7.00,7.00 0 0 0 600.66,594.04" fill="none" stroke="#6f97a3" stroke-width="1.35" stroke-linecap="round"/><path d="M608.24,598.45 A10.00,10.00 0 0 0 601.59,591.19" fill="none" stroke="#6f97a3" stroke-width="1.35" stroke-linecap="round"/>
<rect x="690.6" y="577.00" width="16" height="32" rx="2.2" fill="#fff" stroke="#5e5e5e" stroke-width="1.1"/><rect x="692.6" y="581.20" width="12" height="22.8" fill="none" stroke="#5e5e5e" stroke-width="0.9"/><line x1="696.8" y1="579.20" x2="700.6" y2="579.20" stroke="#5e5e5e" stroke-width="0.8"/><circle cx="698.6" cy="606.50" r="1.1" fill="none" stroke="#5e5e5e" stroke-width="0.8"/><rect x="685.6" y="614.60" width="27.5" height="28.2" rx="2.4" fill="#fff" stroke="#5e5e5e" stroke-width="1.1"/><rect x="688" y="617.20" width="22.8" height="21.6" fill="none" stroke="#5e5e5e" stroke-width="0.9"/><circle cx="699.4" cy="640.80" r="1.1" fill="none" stroke="#5e5e5e" stroke-width="0.8"/><rect x="679.4" y="648.40" width="41.4" height="25.8" rx="1.8" fill="#fff" stroke="#5e5e5e" stroke-width="1.1"/><rect x="682" y="650.80" width="36.4" height="21.6" fill="none" stroke="#5e5e5e" stroke-width="0.9"/><path d="M675.6,676.40 L677.8,674.20 L722.6,674.20 L725,676.40 L725,677.60 Q725,679.60 722.6,679.60 L678,679.60 Q675.6,679.60 675.6,677.60 Z" fill="#fff" stroke="#444" stroke-width="1.1"/><line x1="676" y1="679.40" x2="724.6" y2="679.40" stroke="#333" stroke-width="1.3"/><line x1="695" y1="676.30" x2="705" y2="676.30" stroke="#5e5e5e" stroke-width="0.8"/>
<path d="M687.68,577.04 A2.48,2.48 0 0 1 689.33,575.24" fill="none" stroke="#86a9b2" stroke-width="1.20" stroke-linecap="round"/><path d="M685.87,576.62 A4.34,4.34 0 0 1 688.76,573.47" fill="none" stroke="#86a9b2" stroke-width="1.20" stroke-linecap="round"/><path d="M684.06,576.21 A6.20,6.20 0 0 1 688.18,571.70" fill="none" stroke="#86a9b2" stroke-width="1.20" stroke-linecap="round"/>
<path d="M682.28,615.74 A2.48,2.48 0 0 1 683.93,613.94" fill="none" stroke="#86a9b2" stroke-width="1.20" stroke-linecap="round"/><path d="M680.47,615.32 A4.34,4.34 0 0 1 683.36,612.17" fill="none" stroke="#86a9b2" stroke-width="1.20" stroke-linecap="round"/><path d="M678.66,614.91 A6.20,6.20 0 0 1 682.78,610.40" fill="none" stroke="#86a9b2" stroke-width="1.20" stroke-linecap="round"/>
<path d="M677.18,648.34 A2.48,2.48 0 0 1 678.83,646.54" fill="none" stroke="#86a9b2" stroke-width="1.20" stroke-linecap="round"/><path d="M675.37,647.92 A4.34,4.34 0 0 1 678.26,644.77" fill="none" stroke="#86a9b2" stroke-width="1.20" stroke-linecap="round"/><path d="M673.56,647.51 A6.20,6.20 0 0 1 677.68,643.00" fill="none" stroke="#86a9b2" stroke-width="1.20" stroke-linecap="round"/>
</svg>
</body></html>
